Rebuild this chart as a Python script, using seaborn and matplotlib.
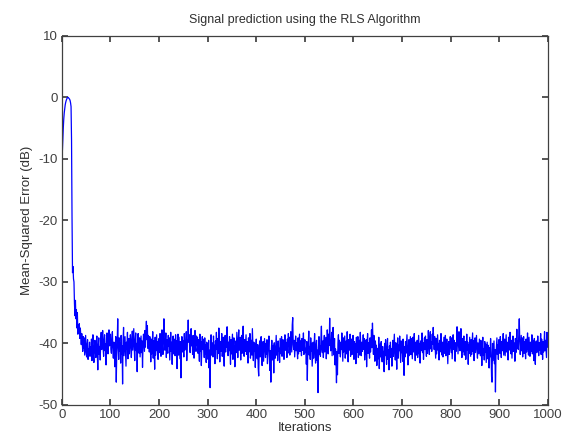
import numpy as np
import seaborn as sns
import matplotlib
matplotlib.use("Agg")
import matplotlib.pyplot as plt

# transient at the start
mse_start = [
    -13.0, -9.0, -7.0, -5.0, -3.5, -2.5, -1.8, -1.2, -0.8, -0.5,
    -0.3, -0.1, 0.0, 0.0, -0.1, -0.2, -0.3, -0.5, -0.9, -1.5,
    -7.0, -19.5, -28.5, -27.5, -29.5, -30.0, -33.5, -35.5, -33.0, -36.0,
    -34.5, -37.5, -35.0, -38.5, -37.0, -38.0, -36.8, -39.2, -37.5, -38.6,
]

# steady-state part, hand-estimated around -40 dB
mse_steady = [
    -40.2, -38.4, -39.7, -41.3, -38.9, -40.8, -39.1, -41.9, -40.3, -38.7, -41.5, -42.2, -40.1, -39.4, -42.6, -40.9, -41.7, -39.8, -42.1, -40.6,
    -41.2, -39.3, -42.8, -40.4, -38.6, -41.9, -43.1, -40.7, -39.5, -41.4, -42.3, -40.0, -38.8, -41.6, -44.3, -40.2, -39.1, -41.8, -40.5, -42.7,
    -39.6, -38.2, -41.0, -40.3, -37.9, -40.8, -42.1, -39.4, -38.6, -41.2, -40.1, -43.5, -39.0, -38.3, -40.6, -41.7, -39.2, -37.8, -40.4, -39.7,
    -38.5, -40.9, -41.6, -39.3, -38.1, -40.7, -42.4, -39.8, -41.1, -43.8, -40.2, -38.9, -46.3, -41.5, -39.6, -36.0, -40.8, -42.6, -39.1, -41.3,
    -40.0, -43.2, -38.7, -41.8, -40.4, -46.6, -39.5, -37.4, -42.0, -40.6, -38.9, -41.4, -43.7, -39.8, -40.9, -38.2, -42.5, -40.1, -39.2, -41.7,
    -40.5, -38.6, -39.9, -42.3, -40.2, -38.0, -41.1, -39.4, -37.6, -40.7, -42.8, -39.5, -38.3, -41.2, -40.0, -44.6, -39.7, -38.4, -40.9, -41.6,
    -39.1, -42.2, -40.3, -38.8, -41.5, -39.6, -43.9, -40.4, -38.5, -39.8, -41.3, -37.9, -40.6, -38.2, -36.4, -39.4, -37.1, -40.8, -38.7, -39.9,
    -41.4, -38.9, -40.1, -43.0, -39.3, -41.7, -40.5, -38.1, -42.4, -39.6, -40.8, -44.2, -39.0, -41.9, -40.3, -38.6, -41.2, -39.7, -42.6, -40.4,
    -39.2, -41.5, -38.4, -40.7, -42.1, -39.5, -37.8, -40.2, -41.8, -38.9, -36.0, -39.7, -41.1, -40.0, -38.3, -42.3, -39.4, -40.9, -41.6, -38.7,
    -40.4, -39.1, -42.7, -40.6, -38.2, -41.3, -39.8, -43.4, -40.1, -38.8, -41.7, -39.3, -40.5, -42.0, -38.6, -41.0, -39.6, -44.1, -40.3, -38.5,
    -41.9, -39.0, -40.8, -42.5, -39.7, -45.6, -40.2, -38.9, -41.4, -39.5, -40.7, -42.2, -38.4, -41.1, -39.9, -40.6, -38.1, -42.8, -40.0, -39.3,
    -36.2, -39.8, -38.6, -40.9, -41.5, -38.3, -37.6, -40.4, -39.2, -41.8, -38.7, -40.1, -42.4, -39.5, -37.9, -40.7, -41.3, -38.8, -40.3, -39.0,
    -41.6, -39.4, -40.8, -42.9, -38.5, -41.2, -39.7, -43.6, -40.5, -38.9, -41.0, -39.3, -40.6, -42.3, -39.1, -41.7, -40.2, -43.1, -39.8, -41.4,
    -40.0, -42.6, -39.5, -44.0, -41.1, -47.2, -40.7, -38.6, -41.9, -39.9, -40.4, -42.2, -38.8, -41.5, -40.3, -43.3, -39.6, -41.0, -38.2, -40.8,
    -42.5, -39.2, -41.6, -37.5, -40.1, -43.0, -39.7, -41.3, -40.5, -38.4, -42.1, -40.9, -39.0, -41.8, -43.7, -40.2, -38.7, -41.4, -39.5, -40.6,
    -37.3, -40.3, -42.0, -39.8, -41.2, -38.9, -40.7, -43.4, -39.4, -41.7, -40.0, -38.5, -42.6, -40.4, -39.1, -41.0, -43.8, -40.8, -39.6, -41.5,
    -38.2, -40.1, -42.3, -39.3, -37.8, -41.1, -40.6, -39.0, -42.7, -40.2, -38.7, -41.6, -39.9, -37.2, -40.5, -42.1, -39.4, -41.3, -40.0, -38.6,
    -41.8, -39.7, -40.9, -43.2, -39.1, -41.4, -40.3, -38.4, -42.4, -40.7, -39.5, -41.9, -37.6, -40.4, -42.8, -39.8, -41.2, -40.1, -43.9, -40.6,
    -39.3, -41.7, -42.5, -40.2, -44.0, -45.3, -41.0, -39.6, -42.2, -40.8, -38.9, -41.5, -43.6, -40.4, -39.7, -42.9, -41.1, -39.2, -40.7, -42.3,
    -40.0, -41.8, -39.4, -43.3, -41.4, -40.6, -38.8, -42.0, -44.4, -41.2, -46.3, -40.9, -39.5, -42.7, -41.6, -40.3, -44.8, -39.9, -41.0, -42.4,
    -40.5, -38.7, -41.9, -40.1, -42.8, -39.6, -41.3, -40.8, -43.1, -39.2, -40.4, -41.7, -38.9, -42.1, -40.0, -39.4, -41.5, -42.6, -40.2, -38.6,
    -41.1, -39.8, -40.7, -42.3, -39.3, -41.6, -38.4, -40.5, -39.0, -41.9, -40.3, -38.1, -39.7, -41.4, -37.0, -35.8, -40.2, -41.0, -39.5, -42.2,
    -40.6, -38.8, -41.2, -39.9, -40.9, -42.5, -39.1, -41.7, -40.0, -38.5, -41.3, -39.6, -40.4, -42.0, -39.2, -41.1, -40.7, -38.3, -41.8, -40.1,
    -39.4, -41.5, -40.8, -43.4, -39.7, -46.0, -41.0, -40.3, -38.0, -41.9, -40.5, -42.6, -39.1, -41.2, -40.0, -43.7, -41.6, -39.8, -42.4, -40.6,
    -38.4, -41.3, -43.2, -40.2, -39.5, -42.8, -41.1, -48.0, -40.7, -38.9, -41.8, -40.4, -42.1, -39.3, -37.2, -40.9, -41.5, -39.6, -42.3, -40.0,
    -38.7, -41.4, -40.1, -39.0, -42.5, -40.8, -37.8, -39.4, -41.7, -38.5, -40.3, -35.9, -39.9, -41.2, -40.6, -38.2, -42.0, -39.7, -37.4, -40.4,
    -41.9, -39.2, -43.5, -40.9, -42.7, -46.4, -41.3, -45.1, -40.0, -38.6, -41.6, -39.5, -40.7, -42.2, -39.8, -41.0, -38.3, -40.5, -42.9, -39.1,
    -41.4, -40.2, -38.8, -42.4, -40.8, -39.6, -41.7, -38.1, -40.3, -43.0, -39.4, -41.1, -40.6, -38.5, -42.1, -40.0, -39.3, -41.8, -40.9, -38.7,
    -40.4, -42.6, -39.7, -41.2, -40.1, -43.3, -39.0, -41.5, -40.7, -38.9, -42.3, -40.3, -39.5, -41.9, -38.2, -40.8, -42.0, -39.8, -41.3, -40.5,
    -38.6, -41.0, -39.2, -42.7, -40.6, -41.7, -39.4, -43.8, -40.0, -38.4, -41.6, -39.9, -40.9, -42.4, -39.1, -41.4, -40.2, -37.8, -40.7, -36.7,
    -39.3, -41.8, -38.7, -40.4, -42.9, -39.6, -41.1, -40.3, -43.6, -41.5, -40.8, -42.5, -39.0, -44.1, -41.2, -40.1, -42.2, -39.7, -41.9, -43.0,
    -40.5, -42.8, -41.3, -44.6, -40.0, -42.0, -39.4, -41.6, -43.4, -40.7, -39.2, -42.6, -41.0, -44.3, -40.4, -41.8, -39.8, -42.3, -40.9, -43.7,
    -41.1, -39.5, -42.1, -40.2, -38.5, -41.4, -42.7, -39.9, -41.7, -44.2, -40.6, -39.1, -42.4, -40.3, -41.2, -38.8, -40.8, -43.1, -39.6, -41.5,
    -40.0, -42.9, -39.3, -41.0, -45.2, -40.5, -42.2, -39.7, -41.6, -40.1, -38.6, -41.3, -43.5, -40.7, -39.4, -42.0, -40.4, -38.9, -41.8, -39.2,
    -40.9, -42.5, -39.0, -41.4, -40.2, -38.4, -41.1, -42.8, -39.8, -40.6, -41.9, -39.5, -42.3, -40.3, -38.7, -41.7, -40.0, -43.2, -39.6, -41.2,
    -40.8, -38.3, -41.5, -39.9, -42.6, -40.4, -39.1, -41.0, -38.8, -40.7, -42.1, -39.4, -41.6, -40.2, -37.9, -40.5, -41.8, -39.3, -38.1, -40.9,
    -39.7, -41.3, -38.5, -40.1, -37.4, -39.6, -41.0, -38.9, -40.6, -42.4, -39.2, -41.7, -40.3, -38.6, -41.1, -40.0, -42.7, -39.5, -41.4, -40.8,
    -38.4, -40.2, -41.9, -39.8, -42.2, -40.5, -39.0, -41.6, -40.9, -38.7, -42.0, -40.4, -39.3, -41.2, -43.3, -40.1, -39.7, -41.8, -40.6, -38.9,
    -40.3, -41.5, -39.1, -42.5, -40.7, -38.6, -41.0, -39.5, -40.8, -42.9, -39.9, -41.3, -40.2, -37.3, -39.4, -41.7, -40.0, -38.1, -40.5, -41.2,
    -39.6, -37.6, -40.9, -42.3, -39.2, -41.4, -40.4, -38.8, -41.9, -40.1, -39.7, -42.6, -40.6, -38.5, -41.1, -39.8, -43.4, -40.3, -41.6, -39.0,
    -40.7, -42.1, -39.4, -41.8, -40.0, -38.3, -41.3, -39.6, -42.8, -40.5, -39.1, -41.5, -40.2, -38.7, -41.0, -42.4, -39.9, -40.8, -41.7, -39.3,
    -40.6, -42.0, -39.5, -41.2, -43.6, -40.4, -39.0, -41.9, -40.9, -42.7, -39.7, -41.4, -40.1, -43.1, -41.6, -39.8, -42.5, -40.3, -41.1, -44.0,
    -40.7, -42.2, -39.2, -41.5, -45.4, -46.3, -40.0, -42.8, -41.3, -39.6, -43.3, -41.0, -47.9, -42.1, -40.5, -39.1, -41.8, -40.2, -42.6, -39.4,
    -40.8, -41.6, -38.9, -40.3, -42.3, -39.7, -41.2, -40.0, -38.4, -41.9, -40.6, -39.3, -42.0, -40.4, -38.6, -41.4, -39.8, -40.9, -42.7, -39.0,
    -41.1, -40.5, -38.2, -40.1, -41.7, -39.5, -42.4, -40.7, -38.8, -41.3, -39.9, -40.2, -42.9, -39.2, -41.5, -40.3, -37.7, -40.8, -39.6, -41.0,
    -38.5, -36.0, -39.4, -41.8, -40.4, -38.7, -41.2, -39.1, -42.2, -40.0, -38.9, -41.6, -39.7, -40.6, -42.5, -39.3, -41.4, -40.2, -38.3, -40.9,
    -41.9, -39.0, -40.7, -42.1, -39.8, -41.3, -40.5, -38.6, -41.7, -39.5, -40.3, -42.8, -39.2, -41.0, -43.4, -40.1, -39.6, -41.5, -40.8, -38.8,
    -40.4, -42.0, -39.9, -41.1, -40.6, -38.4, -41.8, -39.3, -40.2, -42.6, -39.7, -41.4, -40.0, -38.1, -41.2, -39.5, -40.9, -42.3, -38.2, -40.6,
]

mse = np.array(mse_start + mse_steady)
iterations = np.arange(len(mse))

x_ticks = [0, 100, 200, 300, 400, 500, 600, 700, 800, 900, 1000]
y_ticks = [-50, -40, -30, -20, -10, 0, 10]

sns.set_theme(style="white", rc={
    "xtick.direction": "in",
    "ytick.direction": "in",
    "xtick.top": True,
    "ytick.right": True,
    "xtick.bottom": True,
    "ytick.left": True,
    "xtick.major.size": 4,
    "ytick.major.size": 4,
    "axes.edgecolor": "#404040",
    "axes.linewidth": 0.9,
    "axes.unicode_minus": False,
    "text.color": "#303030",
    "axes.labelcolor": "#303030",
    "xtick.color": "#404040",
    "ytick.color": "#404040",
})
plt.rcParams["font.family"] = ["Liberation Sans", "DejaVu Sans"]

fig = plt.figure(figsize=(5.62, 4.43), dpi=100)
ax = fig.add_axes([0.110, 0.086, 0.865, 0.833])

sns.lineplot(x=iterations, y=mse, ax=ax, color="blue", linewidth=0.9,
             estimator=None, sort=False)

ax.set_xlim(0, 1000)
ax.set_ylim(-50, 10)
ax.set_xticks(x_ticks)
ax.set_yticks(y_ticks)
ax.tick_params(labelsize=9.5, pad=3)
ax.set_title("Signal prediction using the RLS Algorithm", fontsize=9, pad=9)
ax.set_xlabel("Iterations", fontsize=9.5, labelpad=1)
ax.set_ylabel("Mean-Squared Error (dB)", fontsize=9.5, labelpad=4)
for s in ax.spines.values():
    s.set_visible(True)

fig.savefig("out.png", dpi=100)
